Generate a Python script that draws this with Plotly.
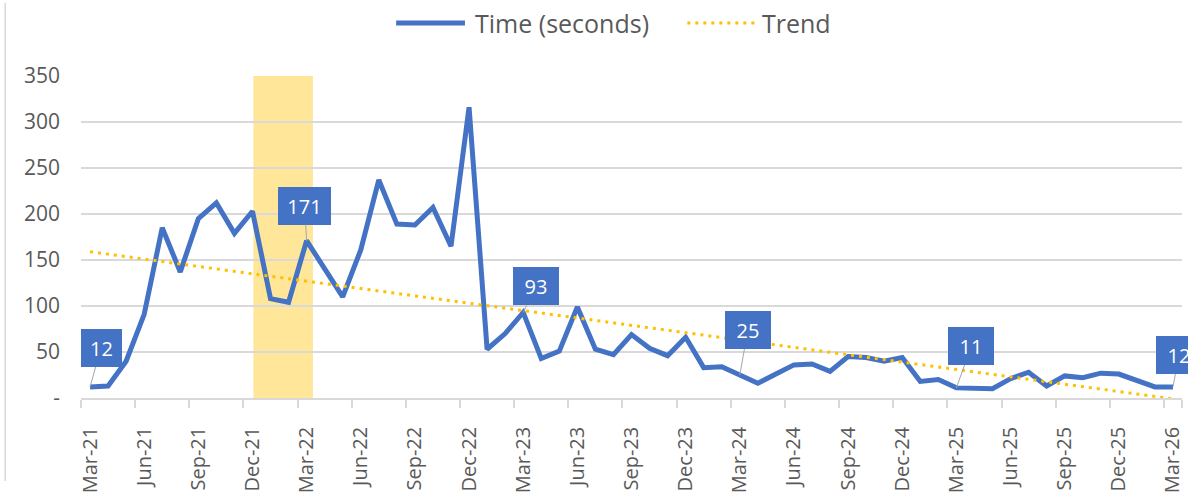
import pandas as pd
import plotly.graph_objects as go

# ---- data -------------------------------------------------------------
months = list(pd.date_range("2021-03-01", periods=61, freq="MS").strftime("%b-%y"))
time_seconds = [12, 13, 40, 91, 185, 137, 195, 212, 179, 203,
                108, 104, 171, 140, 110, 161, 237, 189, 188, 207,
                165, 316, 53, 70, 93, 43, 51, 99, 53, 47,
                69, 54, 46, 66, 33, 34, 25, 16, 26, 36,
                37, 29, 45, 44, 40, 44, 18, 20, 11, 10,
                10, 21, 28, 13, 24, 22, 27, 26, 19, 12, 12]
trend_months = [months[0], months[-1]]
trend_values = [159, -1]
tick_labels = months[::3]
y_ticks = [0, 50, 100, 150, 200, 250, 300, 350]
y_tick_text = ["-" if v == 0 else str(v) for v in y_ticks]
label_months = ["Mar-21", "Mar-22", "Mar-23", "Mar-24", "Mar-25", "Mar-26"]
highlight_span = [9.05, 12.35]   # category-index span of the shaded period

# ---- style ------------------------------------------------------------
BLUE = "#4472C4"
GOLD = "#FFC000"
GRID = "#D9D9D9"
TXT = "#595959"
FONT = "Open Sans"
label_offsets = [(11, -39), (-2, -35), (13, -26), (8, -45), (15, -42), (6, -32)]
label_widths = [41, 53, 46, 46, 46, 46]

W, H = 1188, 496
L, R, T, B = 81, 3, 76, 86
pw, ph = W - L - R, H - T - B


def px_x(p):
    return (p - L) / pw


def px_y(p):
    return (H - B - p) / ph


fig = go.Figure()
fig.add_trace(go.Scatter(x=months, y=time_seconds, mode="lines",
                         line=dict(color=BLUE, width=5), name="Time (seconds)",
                         hoverinfo="x+y"))
fig.add_trace(go.Scatter(x=trend_months, y=trend_values, mode="lines",
                         line=dict(color=GOLD, width=3, dash="3px,5px"), name="Trend"))

fig.add_vrect(x0=highlight_span[0], x1=highlight_span[1], fillcolor="#FFE699",
              opacity=1, line_width=0, layer="below")

# data labels
for m, (ax, ay), w in zip(label_months, label_offsets, label_widths):
    v = time_seconds[months.index(m)]
    fig.add_annotation(x=m, y=v, text=str(v), showarrow=True, arrowhead=0,
                       arrowwidth=1, arrowcolor="#A6A6A6", ax=ax, ay=ay,
                       bgcolor=BLUE, borderpad=0, borderwidth=0, width=w, height=38,
                       font=dict(family=FONT, size=20, color="white"))

# legend (drawn manually to reproduce the long line samples)
ly = px_y(21)
fig.add_shape(type="line", xref="paper", yref="paper", x0=px_x(397), x1=px_x(466),
              y0=ly, y1=ly, line=dict(color=BLUE, width=5))
fig.add_shape(type="line", xref="paper", yref="paper", x0=px_x(689), x1=px_x(758),
              y0=ly, y1=ly, line=dict(color=GOLD, width=3, dash="3px,5px"))
fig.add_annotation(xref="paper", yref="paper", x=px_x(474), y=ly, xanchor="left",
                   yanchor="middle", text="Time (seconds)", showarrow=False,
                   font=dict(family=FONT, size=25, color=TXT))
fig.add_annotation(xref="paper", yref="paper", x=px_x(762), y=ly, xanchor="left",
                   yanchor="middle", text="Trend", showarrow=False,
                   font=dict(family=FONT, size=25, color=TXT))

# chart-area border remnant on the left
fig.add_shape(type="line", xref="paper", yref="paper", x0=px_x(5), x1=px_x(5),
              y0=px_y(H), y1=px_y(0), line=dict(color=GRID, width=1.5))

fig.update_layout(
    width=W, height=H, margin=dict(l=L, r=R, t=T, b=B),
    paper_bgcolor="white", plot_bgcolor="white", showlegend=False,
    font=dict(family=FONT, color=TXT),
    xaxis=dict(type="category", categoryorder="array", categoryarray=months,
               range=[-0.5, 60.5], tickmode="array", tickvals=tick_labels,
               ticktext=tick_labels, tickangle=-90, tickson="boundaries",
               ticks="outside", ticklen=8, tickcolor=GRID, tickwidth=1.5,
               showgrid=False, showline=True, linecolor=GRID, linewidth=1.5,
               ticklabelstandoff=19, tickfont=dict(family=FONT, size=20, color=TXT)),
    yaxis=dict(range=[0, 350], tickmode="array", tickvals=y_ticks, ticktext=y_tick_text,
               showgrid=True, gridcolor=GRID, gridwidth=1.5, zeroline=False,
               showline=False, ticks="", ticklabelstandoff=20,
               tickfont=dict(family=FONT, size=21, color=TXT)),
)

fig.write_html("out.html", config={"displayModeBar": False},
               post_script="document.body.style.margin='0';document.body.style.overflow='hidden';")
